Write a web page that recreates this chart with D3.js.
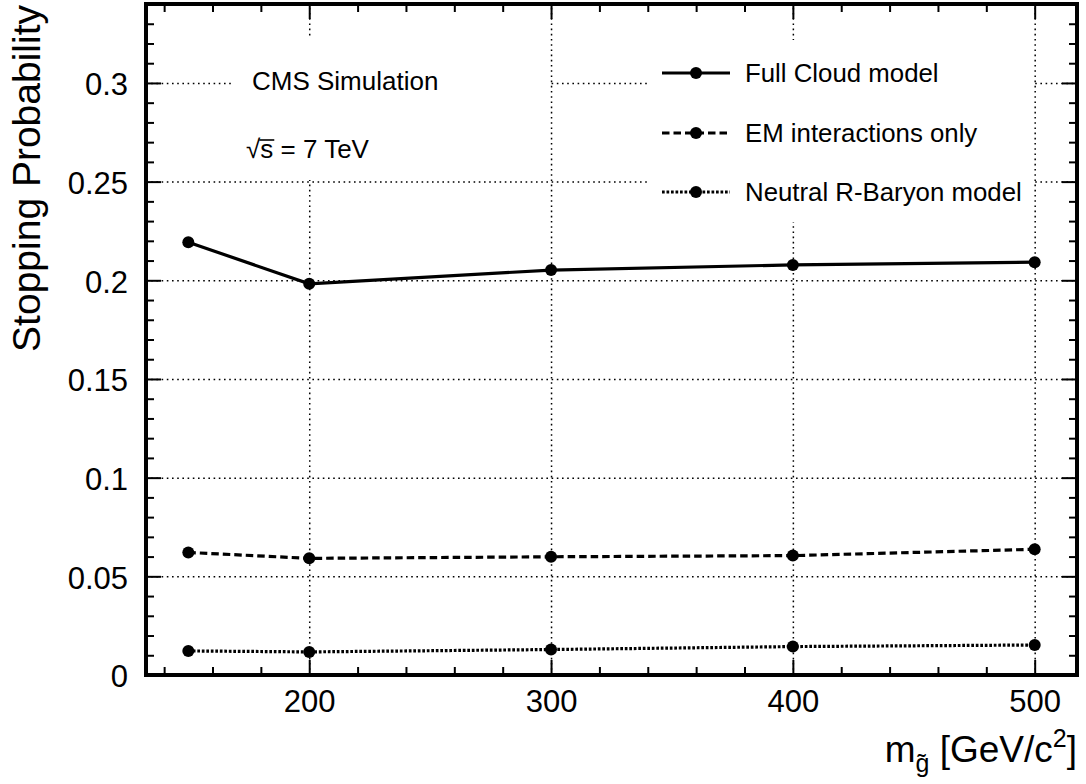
<!DOCTYPE html>
<html>
<head>
<meta charset="utf-8">
<script src="https://cdn.jsdelivr.net/npm/d3@7"></script>
<style>
  body { margin: 0; background: #fff; }
  text { font-family: "Liberation Sans", Arial, Helvetica, sans-serif; fill: #000; }
</style>
</head>
<body>
<svg></svg>
<script>
const WIDTH = 1086;
const HEIGHT = 784;

// data
const masses = [150, 200, 300, 400, 500];
const fullCloud = [0.2193, 0.1982, 0.2052, 0.2078, 0.2092];
const emOnly = [0.0621, 0.0591, 0.0599, 0.0605, 0.0637];
const neutral = [0.0122, 0.0117, 0.0129, 0.0144, 0.0152];
const seriesNames = ["Full Cloud model", "EM interactions only", "Neutral R-Baryon model"];

const xTicks = [200, 300, 400, 500];
const yTicks = [0, 0.05, 0.1, 0.15, 0.2, 0.25, 0.3];
const yTickLabels = ["0", "0.05", "0.1", "0.15", "0.2", "0.25", "0.3"];

const frameL = 146, frameR = 1077, frameT = 4, frameB = 675;
const majorLen = 15, minorLen = 8;

const svg = d3.select("svg").attr("width", WIDTH).attr("height", HEIGHT);

const x = d3.scaleLinear().domain([132.5, 517.5]).range([frameL, frameR]);
const y = d3.scaleLinear().domain([0, 0.34]).range([frameB, frameT]);

const xMinor = d3.range(140, 518, 20).filter(v => xTicks.indexOf(v) < 0);
const yMinor = d3.range(1, 35).map(v => v / 100).filter(v => Math.round(v * 100) % 5 != 0);

// dotted grid
svg.append("g")
  .attr("transform", `translate(0,${frameB})`)
  .call(d3.axisBottom(x).tickValues(xTicks).tickSize(-(frameB - frameT)).tickFormat(""))
  .call(g => g.select(".domain").remove())
  .selectAll("line").attr("stroke-width", 1.5).attr("stroke-dasharray", "1.6,3.6");

svg.append("g")
  .attr("transform", `translate(${frameL},0)`)
  .call(d3.axisLeft(y).tickValues(yTicks.slice(1)).tickSize(-(frameR - frameL)).tickFormat(""))
  .call(g => g.select(".domain").remove())
  .selectAll("line").attr("stroke-width", 1.5).attr("stroke-dasharray", "1.6,3.6");

// white boxes of the text panes
svg.append("rect").attr("x", 232).attr("y", 38).attr("width", 317).attr("height", 142).attr("fill", "#fff");
svg.append("rect").attr("x", 647).attr("y", 40).attr("width", 386).attr("height", 182).attr("fill", "#fff");

svg.append("text").attr("x", 252).attr("y", 90).attr("font-size", 26).text("CMS Simulation");

const sq = svg.append("text").attr("x", 246).attr("y", 158).attr("font-size", 26);
sq.append("tspan").text("\u221A");
sq.append("tspan").text("s = 7 TeV");
const sBox = sq.node().getExtentOfChar(1);
const rBox = sq.node().getExtentOfChar(0);
svg.append("line")
  .attr("x1", rBox.x + rBox.width - 1).attr("x2", sBox.x + sBox.width + 1)
  .attr("y1", 140).attr("y2", 140)
  .attr("stroke", "#000").attr("stroke-width", 1.6);

// series
const series = [
  { name: seriesNames[0], values: fullCloud, dash: null },
  { name: seriesNames[1], values: emOnly, dash: "7.5,4" },
  { name: seriesNames[2], values: neutral, dash: "2.7,1.8" }
];

const line = d3.line().x((d, i) => x(masses[i])).y(d => y(d));

series.forEach(s => {
  svg.append("path")
    .attr("d", line(s.values))
    .attr("fill", "none")
    .attr("stroke", "#000")
    .attr("stroke-width", 3.2)
    .attr("stroke-dasharray", s.dash);
  svg.selectAll(null).data(s.values).enter()
    .append("circle")
    .attr("cx", (d, i) => x(masses[i]))
    .attr("cy", d => y(d))
    .attr("r", 6)
    .attr("fill", "#000");
});

// legend
const legendY = [73, 133, 192];
series.forEach((s, i) => {
  svg.append("line")
    .attr("x1", 662).attr("x2", 730)
    .attr("y1", legendY[i]).attr("y2", legendY[i])
    .attr("stroke", "#000").attr("stroke-width", 3.2)
    .attr("stroke-dasharray", s.dash);
  svg.append("circle").attr("cx", 696).attr("cy", legendY[i]).attr("r", 6).attr("fill", "#000");
  svg.append("text").attr("x", 745).attr("y", legendY[i] + 9).attr("font-size", 25.8).text(s.name);
});

// ticks on all four sides
function ticks(axis, tr, vals, len, fmt) {
  const g = svg.append("g").attr("transform", tr)
    .call(axis.tickValues(vals).tickSize(-len).tickFormat(fmt || ""));
  g.select(".domain").remove();
  g.selectAll("line").attr("stroke-width", 2);
  return g;
}

const gx = ticks(d3.axisBottom(x).tickPadding(15), `translate(0,${frameB})`, xTicks, majorLen, d3.format("d"));
gx.selectAll("text").attr("font-size", 31).attr("font-family", null);
ticks(d3.axisBottom(x), `translate(0,${frameB})`, xMinor, minorLen);
ticks(d3.axisTop(x), `translate(0,${frameT})`, xTicks, majorLen);
ticks(d3.axisTop(x), `translate(0,${frameT})`, xMinor, minorLen);

const gy = ticks(d3.axisLeft(y).tickPadding(18), `translate(${frameL},0)`, yTicks, majorLen, (d, i) => yTickLabels[i]);
gy.selectAll("text").attr("font-size", 31).attr("font-family", null).attr("dy", "0.38em");
ticks(d3.axisLeft(y), `translate(${frameL},0)`, yMinor, minorLen);
ticks(d3.axisRight(y), `translate(${frameR},0)`, yTicks, majorLen);
ticks(d3.axisRight(y), `translate(${frameR},0)`, yMinor, minorLen);

// frame
svg.append("rect")
  .attr("x", frameL).attr("y", frameT)
  .attr("width", frameR - frameL).attr("height", frameB - frameT)
  .attr("fill", "none").attr("stroke", "#000").attr("stroke-width", 4);

// axis titles
svg.append("text")
  .attr("transform", `translate(40,${frameT + 1}) rotate(-90)`)
  .attr("text-anchor", "end")
  .attr("font-size", 39)
  .text("Stopping Probability");

const xt = svg.append("text")
  .attr("x", frameR).attr("y", 762)
  .attr("text-anchor", "end")
  .attr("font-size", 37);
xt.append("tspan").text("m");
xt.append("tspan").attr("font-size", 25).attr("dy", 10).text("g\u0303");
xt.append("tspan").attr("dy", -10).text(" [GeV/c");
xt.append("tspan").attr("font-size", 25).attr("dy", -15).text("2");
xt.append("tspan").attr("dy", 15).text("]");
</script>
</body>
</html>
